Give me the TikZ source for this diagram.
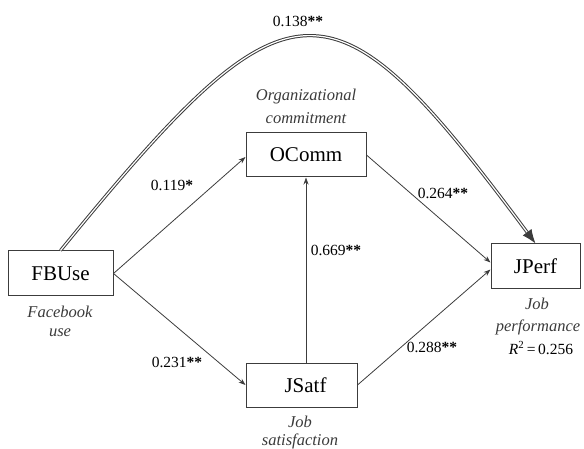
\documentclass[tikz,border=0pt]{standalone}
\usepackage{fontspec}
\setmainfont{Liberation Serif}
\usetikzlibrary{arrows.meta}
\definecolor{boxline}{HTML}{3C3C3C}
\definecolor{labgray}{HTML}{3A3A3A}
\tikzset{
  varbox/.style={draw=boxline, line width=1pt, fill=white, inner sep=0pt, font=\fontsize{21}{24}\selectfont},
  path/.style={draw=boxline, line width=0.8pt, -{Stealth[length=7pt,width=5pt]}},
  coef/.style={font=\fontsize{15.5}{18}\selectfont, inner sep=0pt},
  desc/.style={font=\fontsize{16.5}{20}\selectfont\itshape, text=labgray, align=center, inner sep=0pt}
}
\begin{document}
\begin{tikzpicture}[x=1pt,y=-1pt]
\useasboundingbox (0,0) rectangle (584,449);
\node[varbox, minimum width=105pt, minimum height=45pt] (FB) at (60.5,273.5) {FBUse};
\node[varbox, minimum width=120pt, minimum height=44pt] (OC) at (306,155) {OComm};
\node[varbox, minimum width=89pt, minimum height=45pt] (JP) at (535.5,266.5) {JPerf};
\node[varbox, minimum width=111pt, minimum height=44pt] (JS) at (301.5,385) {\hspace*{8pt}JSatf};

\draw[path] (FB.east) -- ([yshift=-2pt]OC.west);
\draw[path] (FB.east) -- (JS.west);
\draw[path] (JS.north -| OC.south) -- (OC.south);
\draw[path] (OC.east) -- ([yshift=4pt]JP.west);
\draw[path] (JS.east) -- ([yshift=-3pt]JP.west);
\draw[draw=boxline, line width=1pt, double=white, double distance=1.2pt, -{Latex[length=14pt,width=11pt]}]
  (FB.north) .. controls (292,-33) and (330,-33) .. (JP.north);

\node[coef] (c1) at (298,21) {0.138\textbf{**}};
\node[coef] (c2) at (172,185) {0.119\textbf{*}};
\node[coef] (c3) at (443,193) {0.264\textbf{**}};
\node[coef] (c4) at (336,250) {0.669\textbf{**}};
\node[coef] (c5) at (177,362) {0.231\textbf{**}};
\node[coef] (c6) at (432,347) {0.288\textbf{**}};

\node[desc] (d1) at (306,97) {Organizational};
\node[desc] (d1b) at (306,118) {commitment};
\node[desc] (d2) at (60,312) {Facebook};
\node[desc] (d2b) at (60,333) {use};
\node[desc] (d3) at (537,304) {Job};
\node[desc] (d3b) at (538,327) {performance};
\node[coef] (d3c) at (541,348) {\textit{R}\textsuperscript{2}\,=\,0.256};
\node[desc] (d4) at (300,422) {Job};
\node[desc] (d4b) at (300,441) {satisfaction};
\end{tikzpicture}
\end{document}
